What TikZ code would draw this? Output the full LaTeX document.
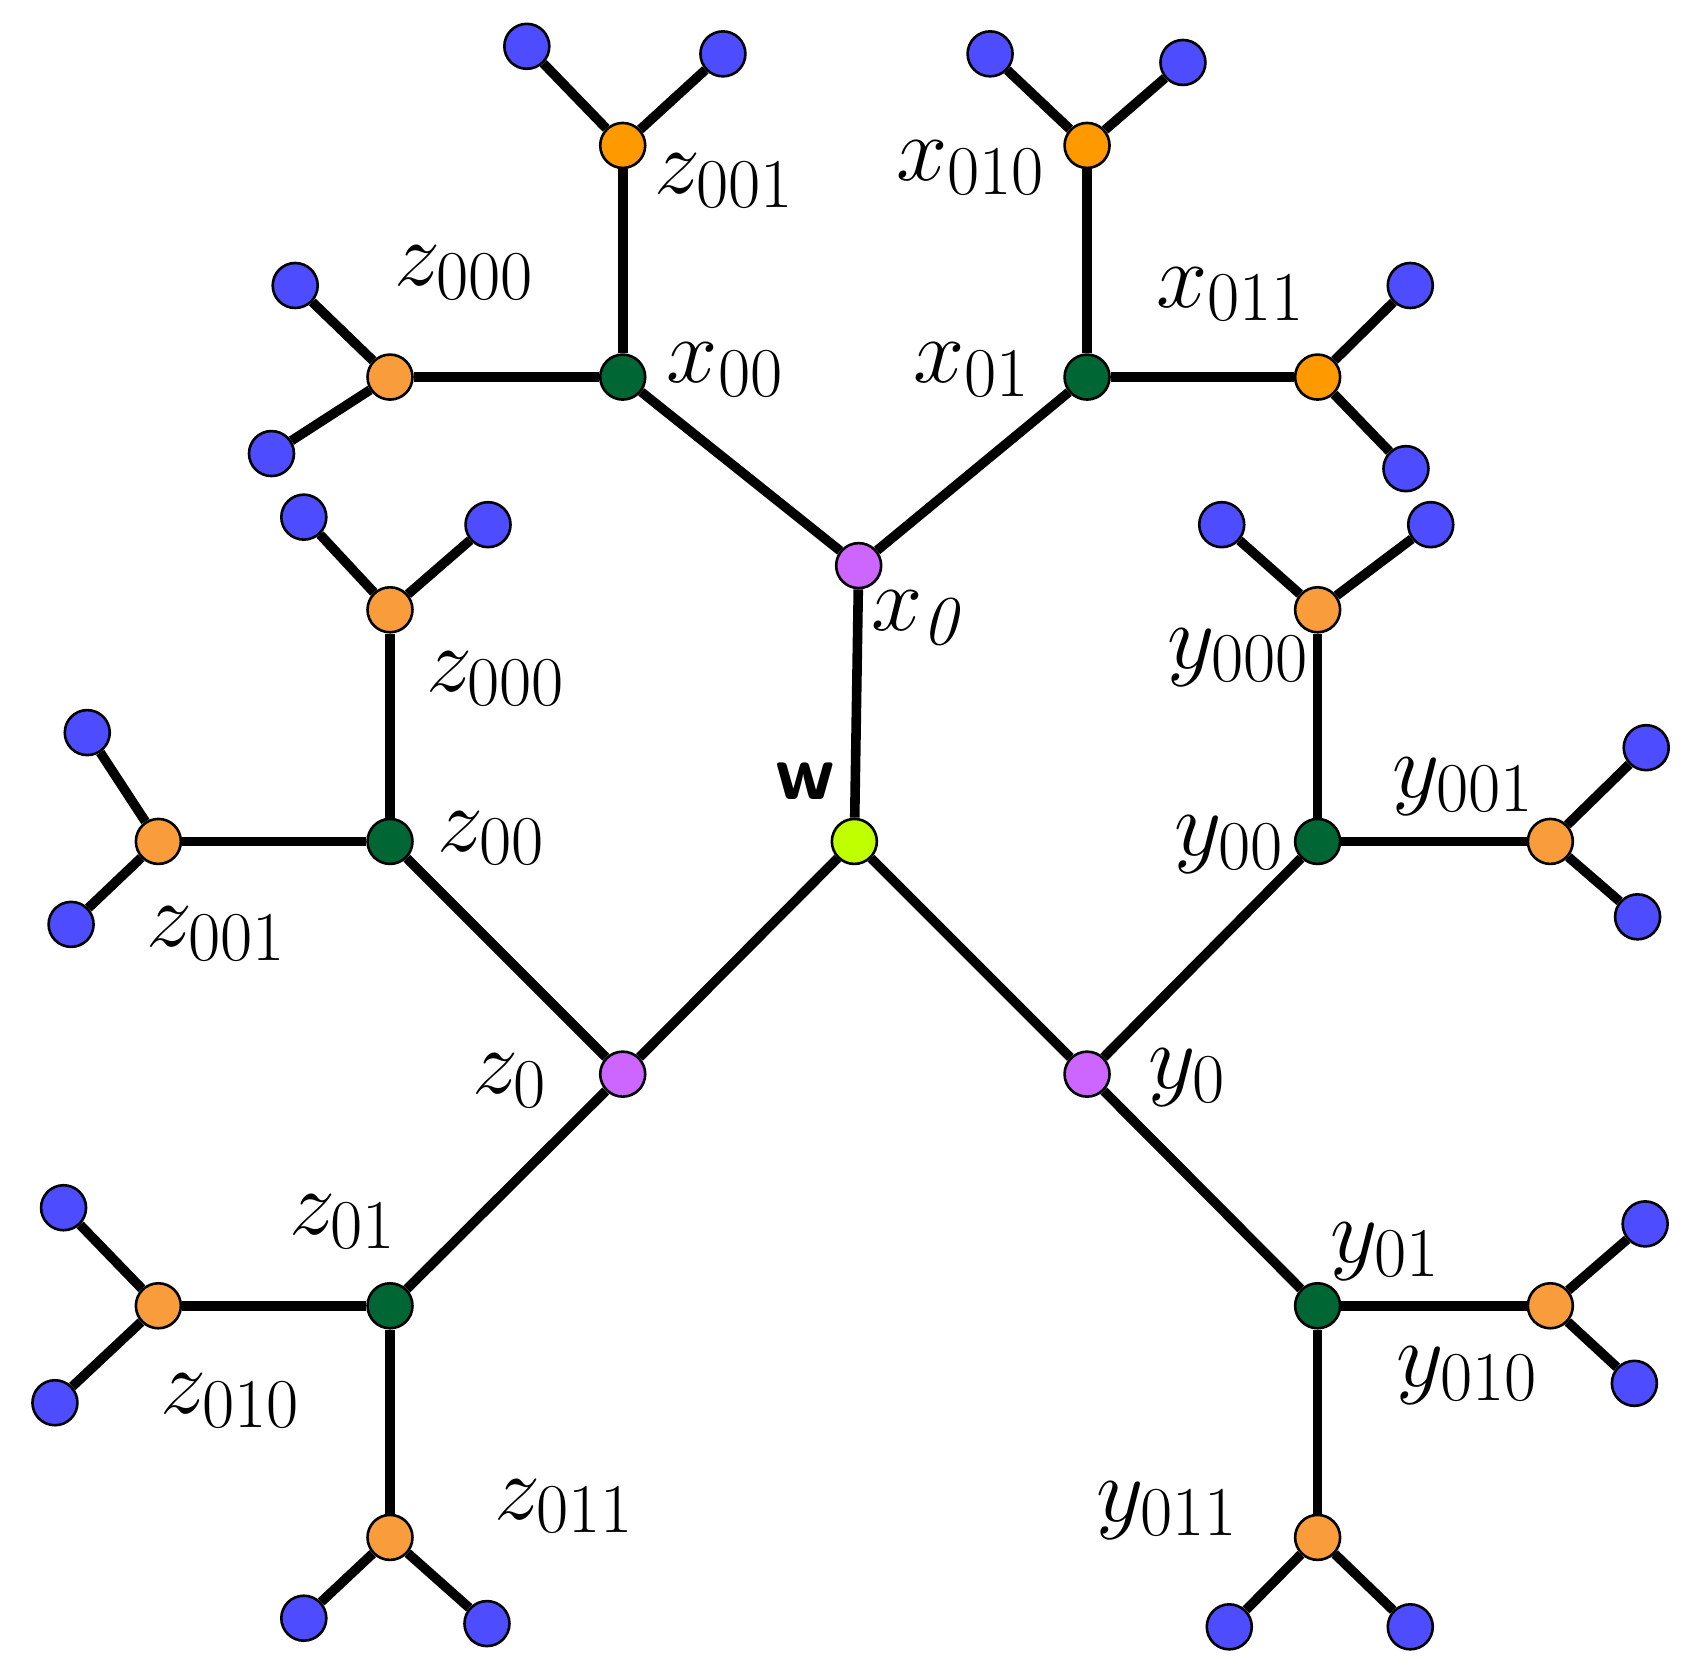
\documentclass[tikz,border=0pt]{standalone}
\usepackage{fix-cm}
\DeclareMathSizes{46}{46}{35}{26}
\definecolor{cblue}{HTML}{4D4DFF}
\definecolor{corangeA}{HTML}{FF9900}
\definecolor{corangeB}{HTML}{F99C3C}
\definecolor{cgreen}{HTML}{006633}
\definecolor{cpurple}{HTML}{CC66FF}
\definecolor{clime}{HTML}{BFFF00}
\tikzset{
  vtx/.style={circle,draw=black,line width=1.3pt,inner sep=0pt,minimum size=22.5pt},
  blue/.style={vtx,fill=cblue},
  oraA/.style={vtx,fill=corangeA},
  oraB/.style={vtx,fill=corangeB},
  grn/.style={vtx,fill=cgreen},
  pur/.style={vtx,fill=cpurple},
  lim/.style={vtx,fill=clime},
  edge/.style={line width=4.8pt,black},
  lab/.style={inner sep=0pt,font=\fontsize{46}{50}\selectfont}
}
\begin{document}
\begin{tikzpicture}[x=0.53875pt,y=-0.53875pt]
\useasboundingbox (0,0) rectangle (1564,1547);
% core
\node[lim] (w) at (793,781) {};
\node[pur] (x0) at (797,525) {};
\node[pur] (z0) at (578,997) {};
\node[pur] (y0) at (1009,997) {};
\node[grn] (x00) at (578,350) {};
\node[grn] (x01) at (1009,350) {};
\node[grn] (z00) at (362,781) {};
\node[grn] (z01) at (362,1212) {};
\node[grn] (y00) at (1223,781) {};
\node[grn] (y01) at (1223,1212) {};
% orange
\node[oraA] (a1) at (578,135) {};
\node[oraB] (a2) at (362,350) {};
\node[oraA] (b1) at (1009,135) {};
\node[oraA] (b2) at (1223,350) {};
\node[oraB] (c1) at (362,566) {};
\node[oraB] (c2) at (147,781) {};
\node[oraB] (d1) at (147,1212) {};
\node[oraB] (d2) at (362,1427) {};
\node[oraB] (e1) at (1223,566) {};
\node[oraB] (e2) at (1439,781) {};
\node[oraB] (f1) at (1439,1212) {};
\node[oraB] (f2) at (1223,1427) {};
% blue leaves
\node[blue] (a1l) at (489,43) {};
\node[blue] (a1r) at (671,50) {};
\node[blue] (a2u) at (274,265) {};
\node[blue] (a2d) at (252,421) {};
\node[blue] (b1l) at (919,50) {};
\node[blue] (b1r) at (1098,58) {};
\node[blue] (b2u) at (1309,265) {};
\node[blue] (b2d) at (1305,435) {};
\node[blue] (c1l) at (282,480) {};
\node[blue] (c1r) at (453,487) {};
\node[blue] (c2u) at (81,680) {};
\node[blue] (c2d) at (66,858) {};
\node[blue] (e1l) at (1134,487) {};
\node[blue] (e1r) at (1328,487) {};
\node[blue] (e2u) at (1528,694) {};
\node[blue] (e2d) at (1520,851) {};
\node[blue] (d1u) at (59,1121) {};
\node[blue] (d1d) at (51,1302) {};
\node[blue] (d2l) at (282,1502) {};
\node[blue] (d2r) at (452,1507) {};
\node[blue] (f1u) at (1527,1136) {};
\node[blue] (f1d) at (1517,1284) {};
\node[blue] (f2l) at (1141,1510) {};
\node[blue] (f2r) at (1309,1510) {};
% edges
\draw[edge] (w) -- (x0);
\draw[edge] (w) -- (z0);
\draw[edge] (w) -- (y0);
\draw[edge] (x0) -- (x00);
\draw[edge] (x0) -- (x01);
\draw[edge] (z0) -- (z00);
\draw[edge] (z0) -- (z01);
\draw[edge] (y0) -- (y00);
\draw[edge] (y0) -- (y01);
\draw[edge] (x00) -- (a1);
\draw[edge] (x00) -- (a2);
\draw[edge] (x01) -- (b1);
\draw[edge] (x01) -- (b2);
\draw[edge] (z00) -- (c1);
\draw[edge] (z00) -- (c2);
\draw[edge] (z01) -- (d1);
\draw[edge] (z01) -- (d2);
\draw[edge] (y00) -- (e1);
\draw[edge] (y00) -- (e2);
\draw[edge] (y01) -- (f1);
\draw[edge] (y01) -- (f2);
\draw[edge] (a1) -- (a1l); \draw[edge] (a1) -- (a1r);
\draw[edge] (a2) -- (a2u); \draw[edge] (a2) -- (a2d);
\draw[edge] (b1) -- (b1l); \draw[edge] (b1) -- (b1r);
\draw[edge] (b2) -- (b2u); \draw[edge] (b2) -- (b2d);
\draw[edge] (c1) -- (c1l); \draw[edge] (c1) -- (c1r);
\draw[edge] (c2) -- (c2u); \draw[edge] (c2) -- (c2d);
\draw[edge] (d1) -- (d1u); \draw[edge] (d1) -- (d1d);
\draw[edge] (d2) -- (d2l); \draw[edge] (d2) -- (d2r);
\draw[edge] (e1) -- (e1l); \draw[edge] (e1) -- (e1r);
\draw[edge] (e2) -- (e2u); \draw[edge] (e2) -- (e2d);
\draw[edge] (f1) -- (f1u); \draw[edge] (f1) -- (f1d);
\draw[edge] (f2) -- (f2l); \draw[edge] (f2) -- (f2r);
% labels
\node[lab] (Lz001a) at (672,168) {$z_{001}$};
\node[lab] (Lz000a) at (431,253) {$z_{000}$};
\node[lab] (Lx00) at (673,343) {$x_{00}$};
\node[lab] (Lx010) at (901,156) {$x_{010}$};
\node[lab] (Lx011) at (1142,273) {$x_{011}$};
\node[lab] (Lx01) at (902,343) {$x_{01}$};
\node[lab] (Lx0) at (854,573) {$x_{\mathit{0}}$};
\node[lab] (Lz000b) at (460,630) {$z_{000}$};
\node[lab] (Ly000) at (1149,610) {$y_{000}$};
\node[lab,font=\fontsize{40}{44}\selectfont\sffamily\bfseries] (Lw) at (747,725) {w};
\node[lab] (Lz00) at (456,778) {$z_{00}$};
\node[lab] (Ly001) at (1358,730) {$y_{001}$};
\node[lab] (Ly00) at (1141,784) {$y_{00}$};
\node[lab] (Lz001b) at (201,867) {$z_{001}$};
\node[lab] (Lz0) at (473,1003) {$z_{0}$};
\node[lab] (Ly0) at (1102,1000) {$y_{0}$};
\node[lab] (Lz01) at (318,1134) {$z_{01}$};
\node[lab] (Ly01) at (1286,1162) {$y_{01}$};
\node[lab] (Lz010) at (214,1300) {$z_{010}$};
\node[lab] (Ly010) at (1362,1277) {$y_{010}$};
\node[lab] (Lz011) at (524,1398) {$z_{011}$};
\node[lab] (Ly011) at (1083,1402) {$y_{011}$};
\end{tikzpicture}
\end{document}
